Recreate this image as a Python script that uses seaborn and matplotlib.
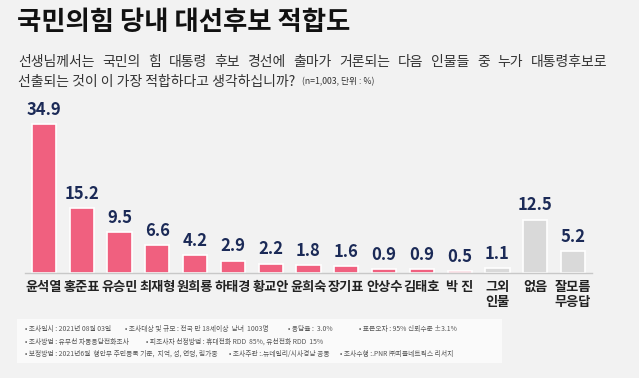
import matplotlib
matplotlib.use("Agg")
import matplotlib.pyplot as plt
import seaborn as sns
import pandas as pd
from matplotlib.patches import Rectangle

categories = ["윤석열", "홍준표", "유승민", "최재형", "원희룡", "하태경", "황교안", "윤희숙",
              "장기표", "안상수", "김태호", "박 진", "그외\n인물", "없음", "잘모름\n무응답"]
values = [34.9, 15.2, 9.5, 6.6, 4.2, 2.9, 2.2, 1.8, 1.6, 0.9, 0.9, 0.5, 1.1, 12.5, 5.2]
value_labels = ["34.9", "15.2", "9.5", "6.6", "4.2", "2.9", "2.2", "1.8", "1.6", "0.9", "0.9",
                "0.5", "1.1", "12.5", "5.2"]
groups = ["후보"] * 12 + ["기타"] * 3

title = "국민의힘 당내 대선후보 적합도"
subtitle1 = "선생님께서는 국민의 힘 대통령 후보 경선에 출마가 거론되는 다음 인물들 중 누가 대통령후보로"
subtitle2 = "선출되는 것이 이 가장 적합하다고 생각하십니까?"
note = "(n=1,003, 단위 : %)"
footer = [
    [(25, "• 조사일시 : 2021년 08월 03일"), (125, "• 조사대상 및 규모 : 전국 만 18세이상  남녀  1003명"),
     (288, "• 응답율 :  3.0%"), (359, "• 표본오차 : 95% 신뢰수준 ±3.1%")],
    [(25, "• 조사방법 : 유무선 자동응답전화조사"), (146, "• 피조사자 선정방법 : 휴대전화 RDD  85%, 유선전화 RDD  15%")],
    [(25, "• 보정방법 : 2021년6월  행안부 주민등록 기준,  지역, 성, 연령, 림가중"),
     (229, "• 조사주관 :.뉴데일리/시사경남 공동"), (340, "• 조사수행 :.PNR ㈜피플네트웍스 리서치")],
]

sns.set_theme(style="white")
plt.rcParams['font.family'] = ['Noto Sans CJK KR', 'DejaVu Sans']

W, H = 639, 378
bg = "#F2F2F2"
pink = "#F0607F"
gray = "#D9D9D9"
navy = "#1B2A57"

fig = plt.figure(figsize=(W / 100, H / 100), dpi=100, facecolor=bg)
ax = fig.add_axes([25 / W, 105 / H, 567 / W, 171 / H])
ax.set_facecolor(bg)

df = pd.DataFrame({"cat": categories, "val": values, "grp": groups})
sns.barplot(data=df, x="cat", y="val", hue="grp", palette={"후보": pink, "기타": gray},
            dodge=False, width=0.64, saturation=1, edgecolor="white", linewidth=1.2,
            legend=False, ax=ax)

for i, (v, lab) in enumerate(zip(values, value_labels)):
    ax.text(i, v + 1.2, lab, ha="center", va="bottom", fontsize=12, fontweight="bold",
            color=navy)

ax.set_xlim(-0.5, len(categories) - 0.5)
ax.set_ylim(0, 40)
ax.set_xlabel("")
ax.set_ylabel("")
ax.set_yticks([])
ax.tick_params(axis="x", length=0, pad=5)
for t in ax.get_xticklabels():
    t.set_fontsize(9.5)
    t.set_fontweight("bold")
    t.set_color("#222222")
    t.set_va("top")
    t.set_linespacing(1.1)
for s in ["top", "right", "left"]:
    ax.spines[s].set_visible(False)
ax.spines["bottom"].set_color("#C8C8C8")
ax.spines["bottom"].set_linewidth(1.0)


def fx(px):
    return px / W


def fy(py):
    return 1 - py / H


renderer = fig.canvas.get_renderer()

fig.text(fx(17), fy(23), title, fontsize=19, fontweight="bold", color="#111111",
         ha="left", va="center")

# subtitle line 1, justified between x=18 and x=607
words = subtitle1.split(" ")
tmp = [fig.text(0, 0, w, fontsize=10, color="#333333", ha="left", va="center") for w in words]
widths = [t.get_window_extent(renderer).width for t in tmp]
gap = (607 - 18 - sum(widths)) / (len(words) - 1)
x = 18
for t, w in zip(tmp, widths):
    t.set_position((fx(x), fy(62)))
    x += w + gap

t2 = fig.text(fx(18), fy(82), subtitle2, fontsize=10, color="#333333", ha="left", va="center")
end2 = t2.get_window_extent(renderer).x1
fig.text((end2 + 7) / W, fy(82), note, fontsize=6.3, color="#333333", ha="left", va="center")

fig.patches.append(Rectangle((fx(17), fy(363)), fx(502 - 17), (363 - 319) / H,
                             transform=fig.transFigure, facecolor="#FAFAFA",
                             edgecolor="none", zorder=0))
for row, ypx in zip(footer, [329, 342, 354]):
    for xpx, txt in row:
        fig.text(fx(xpx), fy(ypx), txt, fontsize=4.9, color="#555555", ha="left", va="center")

fig.savefig("out.png", dpi=100, facecolor=bg)
